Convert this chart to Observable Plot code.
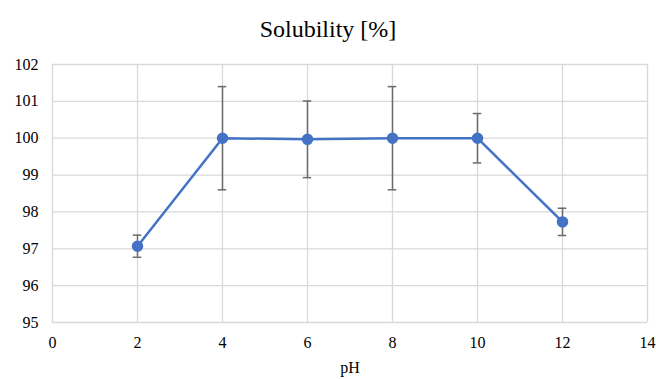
<!DOCTYPE html>
<html><head><meta charset="utf-8">
<script src="https://cdn.jsdelivr.net/npm/d3@7"></script>
<script src="https://cdn.jsdelivr.net/npm/@observablehq/plot@0.6"></script>
<style>
body{margin:0;background:#fff;}
#title{height:50px;line-height:58px;text-align:center;font-family:"Times New Roman","Liberation Serif","DejaVu Serif",serif;font-size:24px;color:#000;}
svg{display:block;}
svg text{font-family:"Times New Roman","Liberation Serif","DejaVu Serif",serif;}
</style></head>
<body>
<div id="title">Solubility [%]</div>
<div id="chart"></div>
<script>
const pH = [2, 4, 6, 8, 10, 12];
const solubility = [97.07, 100.0, 99.97, 100.0, 100.0, 97.73];
const errors = [0.3, 1.4, 1.04, 1.4, 0.67, 0.37];
const xTicks = [0, 2, 4, 6, 8, 10, 12, 14];
const yTicks = [95, 96, 97, 98, 99, 100, 101, 102];

const data = pH.map((p, i) => ({pH: p, s: solubility[i], lo: solubility[i] - errors[i], hi: solubility[i] + errors[i]}));
const grid = "#d9d9d9";
const errColor = "#6b6b6b";
const capHalf = 0.1;

const chart = Plot.plot({
  width: 656,
  height: 329,
  marginLeft: 52,
  marginRight: 9,
  marginTop: 14,
  marginBottom: 57,
  style: {fontFamily: "'Times New Roman', 'Liberation Serif', 'DejaVu Serif', serif", fontSize: "16px", color: "#000", background: "#fff"},
  x: {type: "linear", domain: [0, 14], label: null},
  y: {type: "linear", domain: [95, 102], label: null},
  marks: [
    Plot.gridX(xTicks, {stroke: grid, strokeOpacity: 1, strokeWidth: 1.3}),
    Plot.gridY(yTicks, {stroke: grid, strokeOpacity: 1, strokeWidth: 1.3}),
    Plot.axisX(xTicks, {tickSize: 0, tickPadding: 14, fontSize: 16, label: "pH", labelAnchor: "center", labelArrow: "none", labelOffset: 50}),
    Plot.axisY(yTicks, {tickSize: 0, tickPadding: 14, fontSize: 16, label: null}),
    Plot.ruleX(data, {x: "pH", y1: "lo", y2: "hi", stroke: errColor, strokeWidth: 1.5}),
    Plot.ruleY(data, {y: "lo", x1: d => d.pH - capHalf, x2: d => d.pH + capHalf, stroke: errColor, strokeWidth: 1.5}),
    Plot.ruleY(data, {y: "hi", x1: d => d.pH - capHalf, x2: d => d.pH + capHalf, stroke: errColor, strokeWidth: 1.5}),
    Plot.line(data, {x: "pH", y: "s", stroke: "#4472C4", strokeWidth: 2.5}),
    Plot.dot(data, {x: "pH", y: "s", r: 5, fill: "#4472C4", stroke: "#4472C4"})
  ]
});
document.getElementById("chart").appendChild(chart);
</script>
</body></html>
